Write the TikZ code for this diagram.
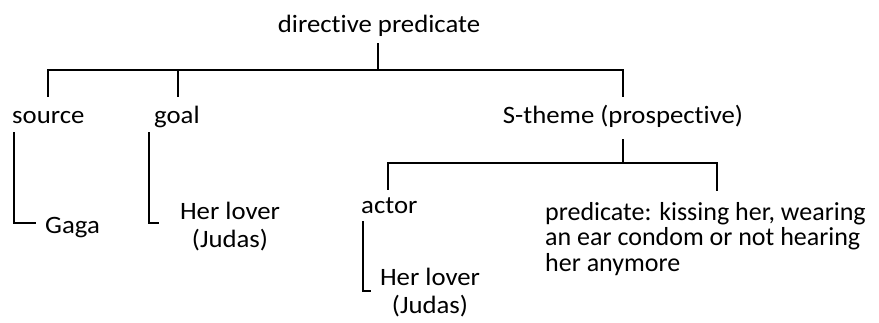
\documentclass[tikz,border=0pt]{standalone}
\usepackage{fontspec}
\setmainfont[Ligatures=NoCommon]{Carlito}
\newfontfamily\cand[FakeStretch=1.07,Ligatures=NoCommon]{Carlito}
\begin{document}
\begin{tikzpicture}[x=1pt,y=-1pt,
  lbl/.style={inner sep=0pt, font=\cand\fontsize{25}{28}\selectfont},
  plbl/.style={inner sep=0pt, font=\fontsize{26}{25}\selectfont},
  br/.style={line width=2.5pt, line cap=rect, line join=miter}]
\useasboundingbox (0,0) rectangle (879,322);
% texts
\node[lbl, anchor=base] (dp) at (379,32) {directive predicate};
\node[lbl, anchor=base west] (src) at (12,123) {source};
\node[lbl, anchor=base west] (goal) at (154,123) {goal};
\node[lbl, anchor=base] (st) at (623,123) {S-theme (prospective)};
\node[lbl, anchor=base west] (gaga) at (45,233) {Gaga};
\node[lbl, anchor=base] (hl1) at (230,219) {\begin{tabular}[t]{@{}c@{}}Her lover\\(Judas)\end{tabular}};
\node[lbl, anchor=base west] (actor) at (361,213) {actor};
\node[lbl, anchor=base] (hl2) at (430,285) {\begin{tabular}[t]{@{}c@{}}Her lover\\(Judas)\end{tabular}};
\node[plbl, anchor=base west] (pred) at (545,220) {\begin{tabular}[t]{@{}l@{}}predicate: kissing her, wearing\\an ear condom or not hearing\\her anymore\end{tabular}};
% junction coordinates
\coordinate (dpA) at (378,44);
\coordinate (dpB) at (378,70);
\coordinate (srcT) at (48,96);
\coordinate (srcC) at (48,70);
\coordinate (goalT) at (178,96);
\coordinate (goalC) at (178,70);
\coordinate (stT) at (623,96);
\coordinate (stC) at (623,70);
\coordinate (stA) at (623,140);
\coordinate (stB) at (623,163);
\coordinate (acT) at (388,189);
\coordinate (acC) at (388,163);
\coordinate (prT) at (717,190);
\coordinate (prC) at (717,163);
\coordinate (s1) at (14,133);
\coordinate (s2) at (14,223);
\coordinate (s3) at (35,223);
\coordinate (g1) at (149,133);
\coordinate (g2) at (149,223);
\coordinate (g3) at (158,223);
\coordinate (a1) at (363,222);
\coordinate (a2) at (363,291);
\coordinate (a3) at (370,291);
% connectors
\draw[br] (dpA) -- (dpB);
\draw[br] (srcT) -- (srcC) -- (stC) -- (stT);
\draw[br] (goalC) -- (goalT);
\draw[br] (stA) -- (stB);
\draw[br] (acT) -- (acC) -- (prC) -- (prT);
\draw[br] (s1) -- (s2) -- (s3);
\draw[br] (g1) -- (g2) -- (g3);
\draw[br] (a1) -- (a2) -- (a3);
\end{tikzpicture}
\end{document}
